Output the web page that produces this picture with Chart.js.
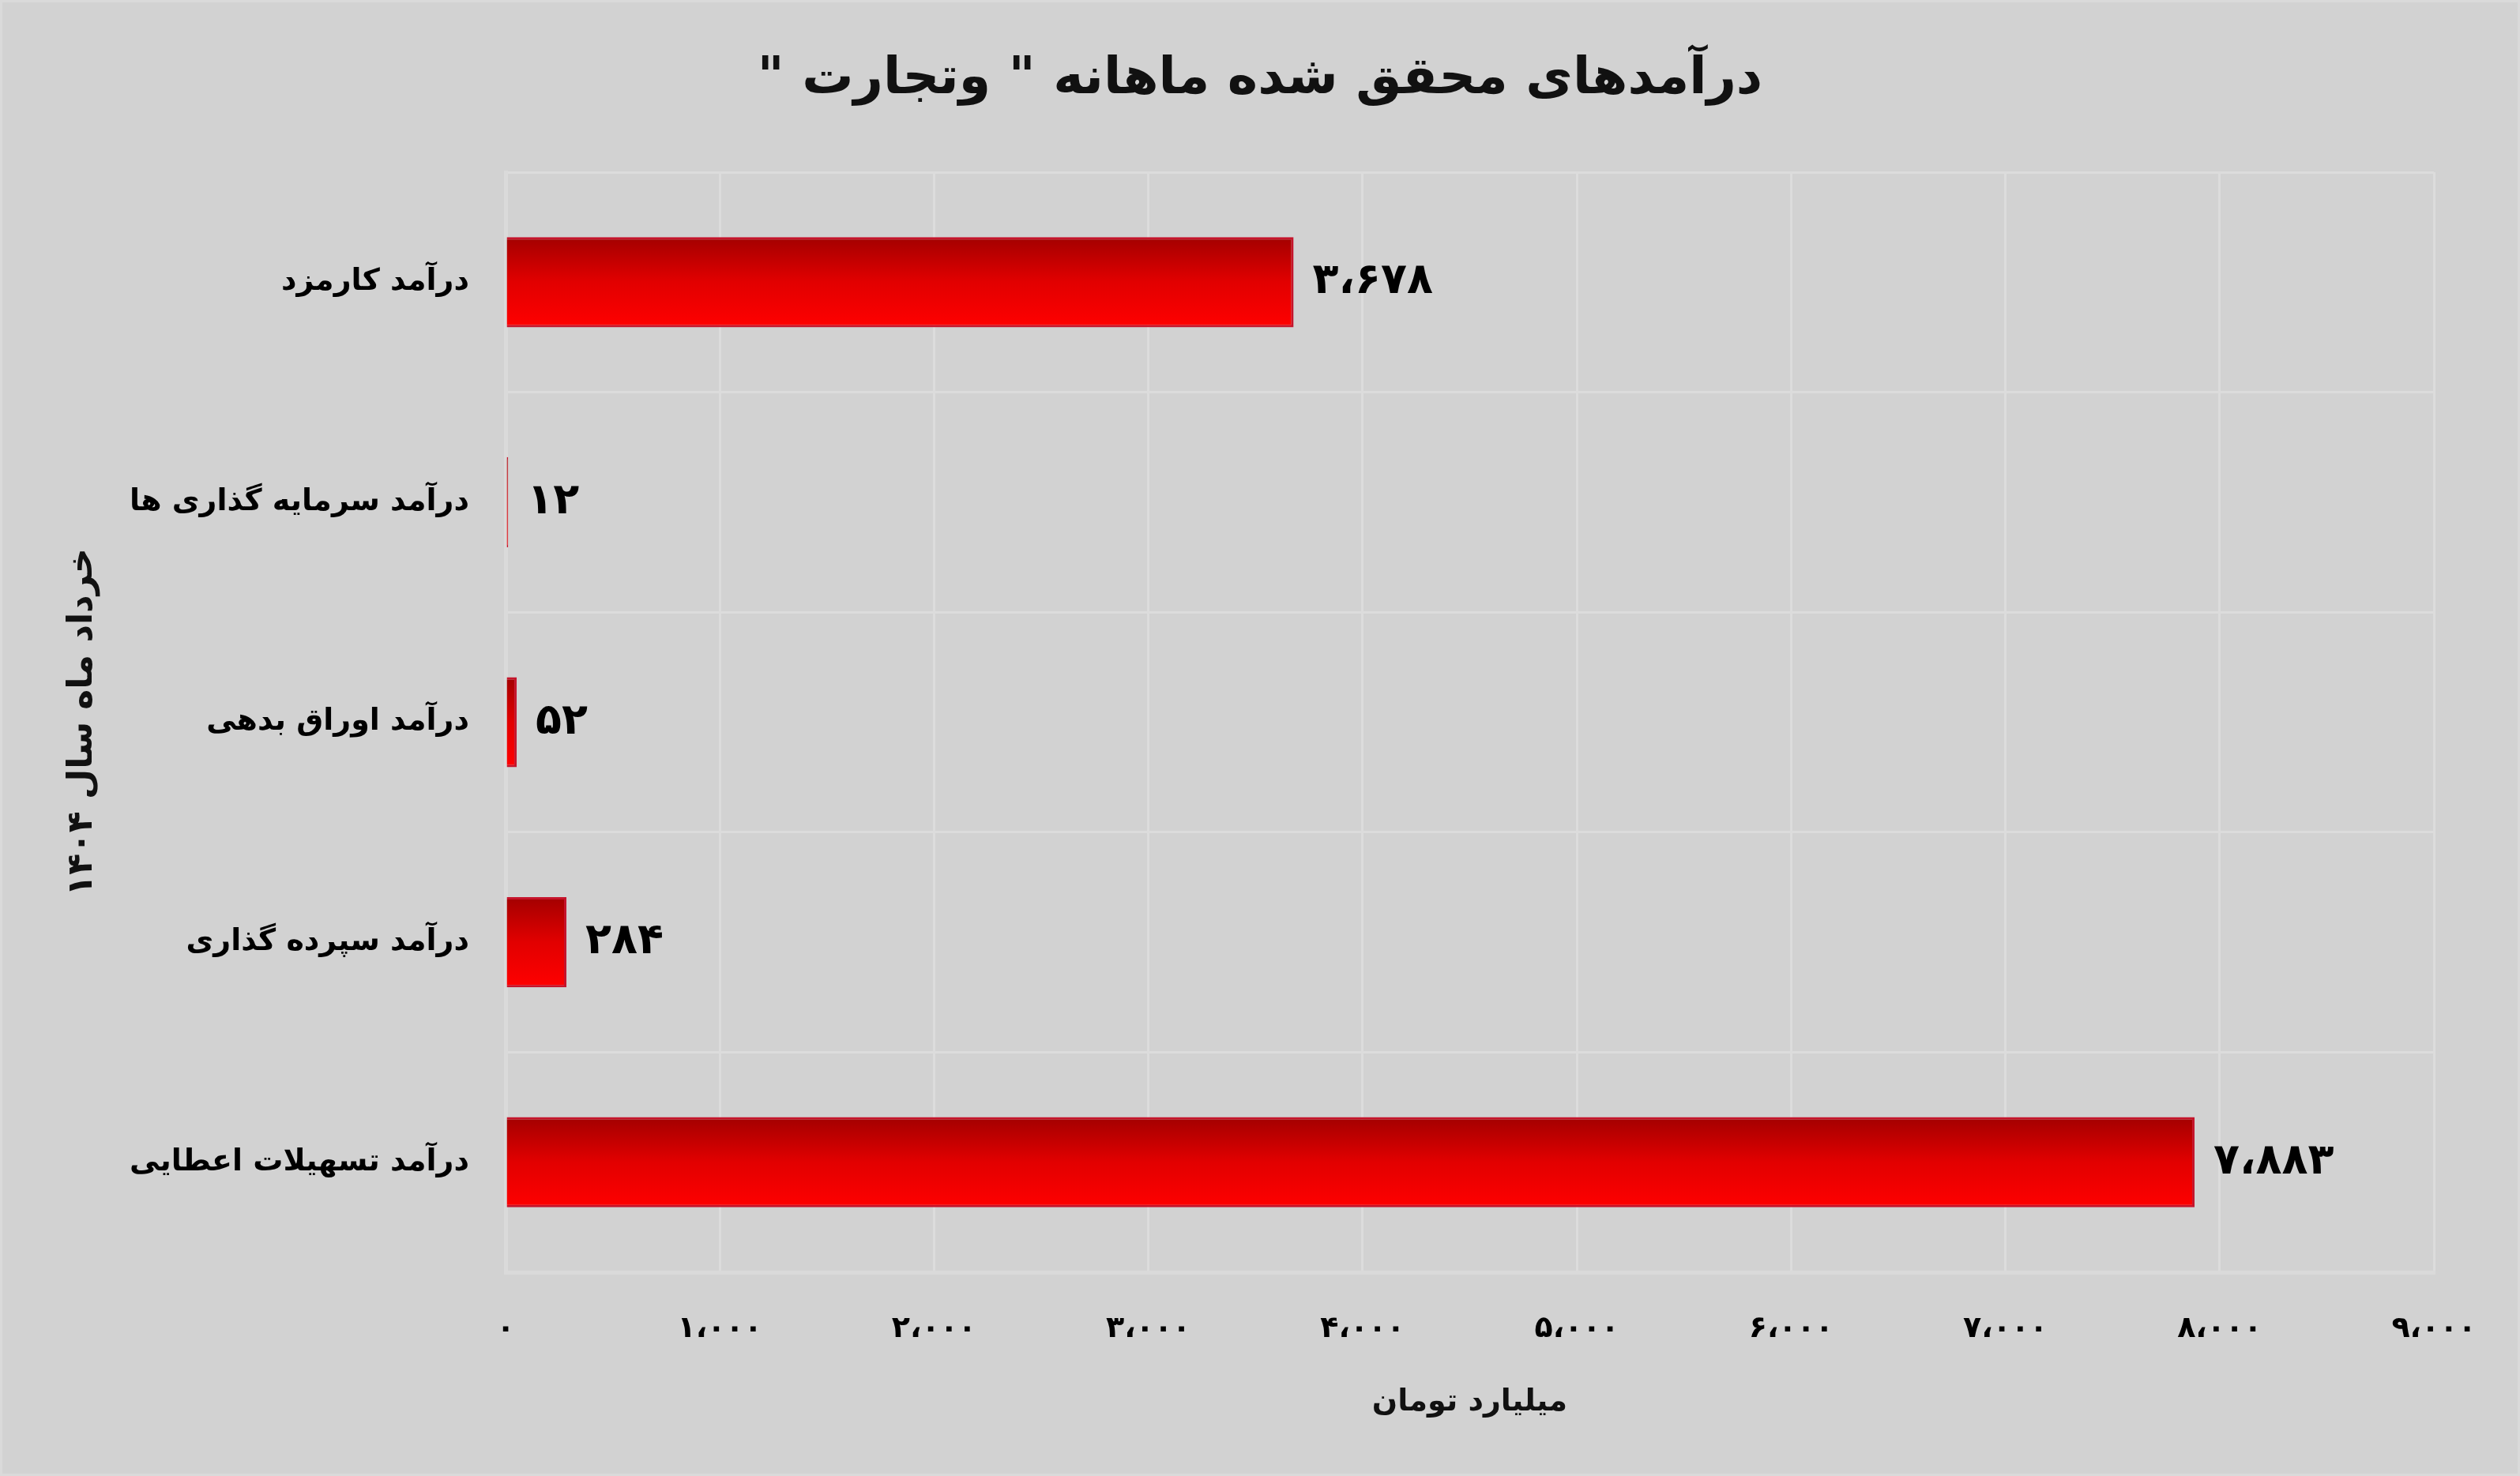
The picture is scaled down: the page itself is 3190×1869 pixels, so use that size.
<!DOCTYPE html>
<html lang="fa">
<head>
<meta charset="utf-8">
<title>درآمدهای محقق شده ماهانه وتجارت</title>
<script src="https://cdn.jsdelivr.net/npm/chart.js@4.4.1/dist/chart.umd.min.js"></script>
<style>
  html, body { margin:0; padding:0; background:#d2d2d2; }
  #wrap { position:relative; width:3190px; height:1869px; }
  #wrap::after { content:''; position:absolute; inset:0; border:3px solid #dadada; pointer-events:none; }
</style>
</head>
<body>
<div id="wrap"><canvas id="incomeChart"></canvas></div>
<script>
// ── Data ──
const CHART_TITLE = 'درآمدهای محقق شده ماهانه " وتجارت "\u200F';
const categories = ['درآمد کارمزد', 'درآمد سرمایه گذاری ها', 'درآمد اوراق بدهی', 'درآمد سپرده گذاری', 'درآمد تسهیلات اعطایی'];
const incomeValues = [3678, 12, 52, 284, 7883];
const xTicks = [0, 1000, 2000, 3000, 4000, 5000, 6000, 7000, 8000, 9000];
const xTitle = 'میلیارد تومان';
const yTitle = 'خرداد ماه سال ۱۴۰۴';

const FONT = "'DejaVu Sans', sans-serif";
const BAR_PCT = 0.41;

// persian digits + arabic comma as thousands separator
function faNum(v) {
    const s = Math.round(v).toString().replace(/\B(?=(\d{3})+(?!\d))/g, '،');
    return s.replace(/\d/g, d => '۰۱۲۳۴۵۶۷۸۹'[d]);
}

function barGradient(context) {
    const chart = context.chart;
    const y = chart.scales.y;
    if (!chart.chartArea || !y) return '#e00000';
    const c = y.getPixelForValue(context.dataIndex);
    const h = (y.height / categories.length) * BAR_PCT;
    const g = chart.ctx.createLinearGradient(0, c - h/2, 0, c + h/2);
    g.addColorStop(0, '#a30000');
    g.addColorStop(0.5, '#e20000');
    g.addColorStop(1, '#ff0000');
    return g;
}

// value labels to the right of each bar
const valueLabels = {
    id: 'valueLabels',
    afterDatasetsDraw(chart) {
        const ctx = chart.ctx;
        const meta = chart.getDatasetMeta(0);
        ctx.save();
        ctx.font = 'bold 54px ' + FONT;
        ctx.letterSpacing = '10px';
        ctx.fillStyle = '#000';
        ctx.textAlign = 'left';
        ctx.textBaseline = 'middle';
        meta.data.forEach((bar, i) => {
            ctx.fillText(faNum(incomeValues[i]), bar.x + 24, bar.y);
        });
        ctx.restore();
    }
};

// wider digit spacing on the x tick labels
const spacedTicks = {
    id: 'spacedTicks',
    afterLayout(chart) {
        const sx = chart.scales.x;
        if (!sx || sx._spaced) return;
        const orig = sx.drawLabels;
        sx.drawLabels = function(area) {
            this.ctx.save();
            this.ctx.letterSpacing = '5px';
            orig.call(this, area);
            this.ctx.restore();
        };
        sx._spaced = true;
    }
};

const gridColor = '#dcdcdc';

new Chart(document.getElementById('incomeChart').getContext('2d'), {
    type: 'bar',
    data: {
        labels: categories,
        datasets: [{
            data: incomeValues,
            backgroundColor: barGradient,
            borderColor: '#c5142b',
            borderWidth: { top: 3, bottom: 3, right: 3, left: 0 },
            borderSkipped: false,
            categoryPercentage: 1,
            barPercentage: BAR_PCT
        }]
    },
    options: {
        indexAxis: 'y',
        responsive: true, maintainAspectRatio: false, animation: false,
        devicePixelRatio: 1,
        layout: { padding: 0 },
        plugins: {
            legend: { display: false },
            tooltip: { enabled: false },
            title: {
                display: true, text: CHART_TITLE, color: '#111',
                font: { family: FONT, size: 65, weight: 'bold' },
                padding: { top: 62, bottom: 78 }
            }
        },
        scales: {
            x: {
                min: 0, max: 9000,
                afterBuildTicks: (scale) => { scale.ticks = xTicks.map(v => ({ value: v })); },
                afterFit: (scale) => { scale.height = 258; },
                grid: { color: gridColor, lineWidth: 3, drawTicks: false },
                border: { color: '#dadada', width: 5 },
                ticks: { color: '#000', padding: 49, maxRotation: 0, callback: (v) => faNum(v),
                         font: { family: FONT, size: 38, weight: 'bold' } },
                title: { display: true, text: xTitle, color: '#111',
                         font: { family: FONT, size: 38, weight: 'bold' },
                         padding: { top: 0, bottom: 70 } }
            },
            y: {
                afterFit: (scale) => { scale.width = 640; },
                grid: { color: gridColor, lineWidth: 3, drawTicks: false },
                border: { color: '#dadada', width: 5 },
                ticks: { color: '#000', padding: 46,
                         font: { family: FONT, size: 38, weight: 'bold' } },
                title: { display: true, text: yTitle, color: '#111',
                         font: { family: FONT, size: 44, weight: 'bold' },
                         padding: { top: 78, bottom: 0 } }
            },
            // empty right margin so the title centres on the full width
            margin: {
                type: 'linear', position: 'right', axis: 'y',
                grid: { display: false }, border: { display: false },
                ticks: { display: false },
                afterFit: (scale) => { scale.width = 109; }
            }
        }
    },
    plugins: [valueLabels, spacedTicks]
});
</script>
</body>
</html>
